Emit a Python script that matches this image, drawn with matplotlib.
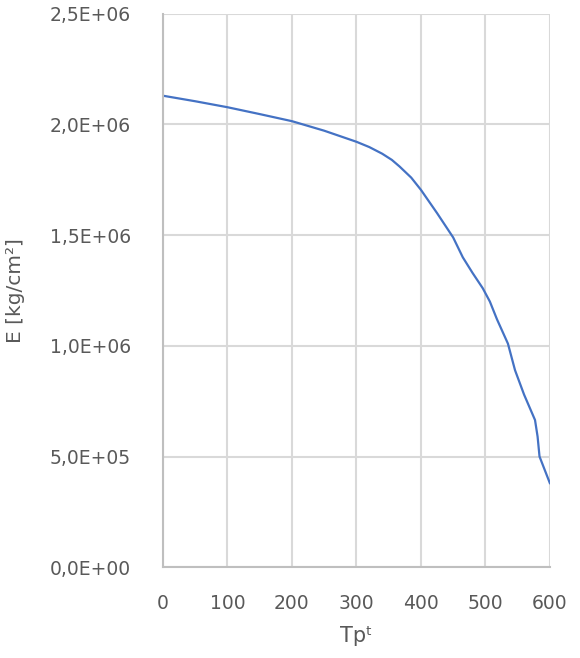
import numpy as np
import matplotlib.pyplot as plt
from matplotlib.ticker import FuncFormatter

# curve
temp = [0, 50, 100, 150, 200, 250, 300, 320, 340, 355, 367, 385, 400, 425, 450, 465,
        480, 496, 507, 518, 535, 546, 560, 577, 581, 584, 600]
modulus = [2.13e6, 2.105e6, 2.078e6, 2.047e6, 2.015e6, 1.972e6, 1.922e6, 1.898e6,
           1.868e6, 1.84e6, 1.81e6, 1.76e6, 1.705e6, 1.60e6, 1.49e6, 1.40e6,
           1.33e6, 1.26e6, 1.20e6, 1.12e6, 1.01e6, 0.89e6, 0.78e6, 0.665e6,
           0.59e6, 0.50e6, 0.38e6]
x_ticks = [0, 100, 200, 300, 400, 500, 600]
y_ticks = [0, 5e5, 1e6, 1.5e6, 2e6, 2.5e6]

plt.rcParams['font.family'] = ['DejaVu Sans']
txt = '#595959'

fig = plt.figure(figsize=(5.8, 6.58), dpi=100)
ax = fig.add_axes([0.281, 0.138, 0.667, 0.841])
ax.plot(temp, modulus, color='#4472C4', lw=1.6)

ax.set_xlim(0, 600)
ax.set_ylim(0, 2.5e6)
ax.set_xticks(x_ticks)
ax.set_yticks(y_ticks)

def sci_comma(v, pos):
    return f"{v:.1E}".replace('.', ',')
ax.yaxis.set_major_formatter(FuncFormatter(sci_comma))

ax.grid(True, color='#d9d9d9', lw=1.5)
ax.set_axisbelow(True)
for s in ['top', 'right']:
    ax.spines[s].set_visible(False)
for s in ['left', 'bottom']:
    ax.spines[s].set_color('#bfbfbf')
    ax.spines[s].set_linewidth(1.5)
ax.tick_params(length=0, labelsize=13.5, colors=txt)
ax.tick_params(axis='x', pad=19)
ax.tick_params(axis='y', pad=23)

ax.set_xlabel('Tpᵗ', fontsize=15, color=txt, labelpad=10)
ax.set_ylabel('E [kg/cm²]', fontsize=14.5, color=txt, labelpad=18)

fig.savefig('out.png', dpi=100)
